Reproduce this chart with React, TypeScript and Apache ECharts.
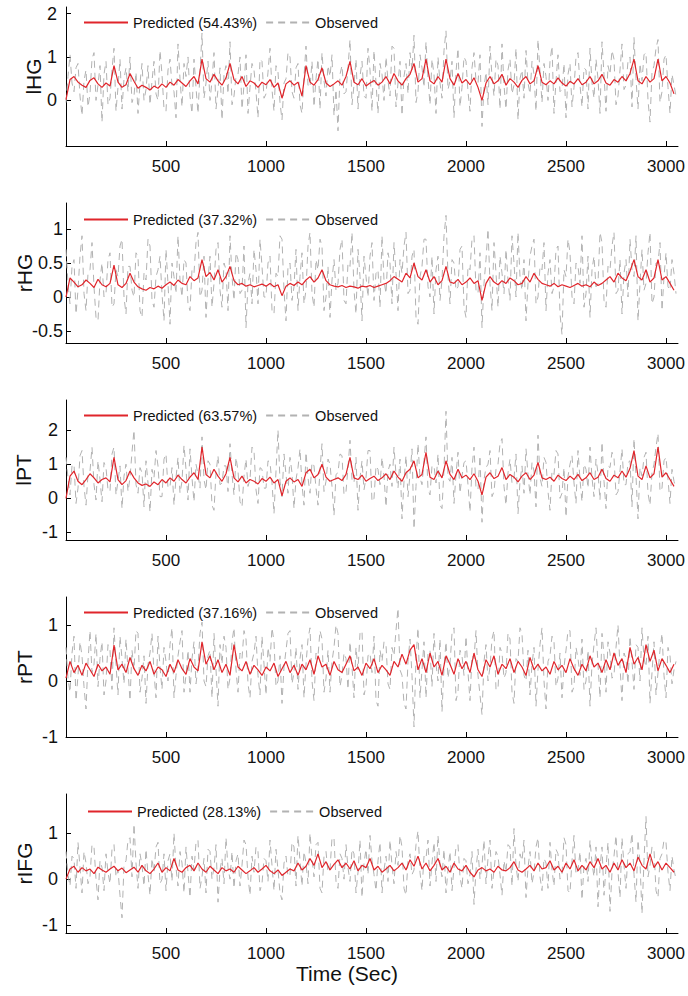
import React, { useEffect, useRef } from "react";
import * as echarts from "echarts";

const PRED_STEP = 20; // seconds between predicted samples
const OBS_STEP = 10; // seconds between observed samples
const X_TICKS = [500, 1000, 1500, 2000, 2500, 3000];

const REGIONS = ["lHG", "rHG", "lPT", "rPT", "rIFG"];
const FIT = ["54.43%", "37.32%", "63.57%", "37.16%", "28.13%"];

const predLHG = [
  0.02, 0.48, 0.55, 0.42, 0.35, 0.30, 0.46, 0.52, 0.38, 0.30,
  0.40, 0.33, 0.80, 0.42, 0.30, 0.36, 0.62, 0.44, 0.28, 0.35,
  0.30, 0.24, 0.33, 0.28, 0.38, 0.30, 0.42, 0.35, 0.48, 0.40,
  0.32, 0.45, 0.55, 0.38, 0.95, 0.50, 0.42, 0.60, 0.45, 0.35,
  0.52, 0.85, 0.48, 0.38, 0.55, 0.32, 0.45, 0.40, 0.30, 0.42,
  0.36, 0.48, 0.30, 0.40, 0.05, 0.38, 0.45, 0.35, 0.42, 0.10,
  0.80, 0.42, 0.35, 0.48, 0.75, 0.40, 0.32, 0.38, 0.45, 0.35,
  0.55, 0.90, 0.42, 0.36, 0.50, 0.33, 0.40, 0.46, 0.35, 0.42,
  0.55, 0.38, 0.62, 0.45, 0.35, 0.50, 0.60, 0.85, 0.42, 0.50,
  0.95, 0.45, 0.38, 0.55, 0.42, 0.95, 0.50, 0.35, 0.62, 0.40,
  0.48, 0.36, 0.52, 0.30, 0.00, 0.40, 0.55, 0.38, 0.45, 0.60,
  0.35, 0.50, 0.42, 0.30, 0.46, 0.55, 0.38, 0.45, 0.80, 0.42,
  0.36, 0.45, 0.38, 0.52, 0.40, 0.33, 0.44, 0.38, 0.50, 0.36,
  0.42, 0.55, 0.38, 0.45, 0.60, 0.40, 0.35, 0.48, 0.42, 0.55,
  0.45, 0.62, 0.95, 0.45, 0.38, 0.55, 0.42, 0.50, 0.95, 0.45,
  0.55, 0.40, 0.15,
];
const obsLHG = [
  -0.05, 0.55, 1.05, 0.40, 0.20, 0.75, 0.85, 0.10, -0.35, 0.45, 0.70, -0.15, 0.15, 0.95, 1.10, 0.00, 0.35, 0.80, -0.50, 0.60,
  0.90, -0.10, 0.05, 0.70, 1.20, -0.25, 0.30, 0.95, -0.20, 0.50, 0.75, 0.20, 1.00, -0.05, 0.10, 0.65, -0.30, 0.40, 0.85, 0.00,
  0.25, 0.80, -0.10, 0.45, 0.90, 0.15, 0.00, 1.15, 0.60, -0.20, -0.25, 0.70, 0.95, 0.35, 0.20, -0.40, 1.30, 0.50, -0.15, 0.85,
  0.55, 1.00, 0.10, -0.30, 0.95, 0.30, -0.30, 0.65, 1.55, 0.05, 0.40, 0.90, 0.00, 0.45, 1.10, -0.20, 0.25, 0.75, -0.45, 0.60,
  0.80, 0.15, 1.35, -0.10, 0.10, 0.55, 0.60, 1.00, -0.20, 0.35, 1.05, -0.30, 0.30, 0.85, 0.70, 0.20, -0.40, 0.95, 0.90, 0.05,
  0.15, 0.65, 1.20, 0.25, -0.25, 0.80, 0.65, -0.05, -0.45, 0.40, 0.50, 1.10, 1.00, 0.20, 0.05, 0.75, 0.85, -0.10, -0.30, 0.55,
  1.25, 0.35, 0.30, 0.90, -0.15, 0.50, 0.95, -0.20, 1.10, 0.45, 0.10, 0.80, 0.55, 1.05, -0.35, 0.25, -0.70, 0.60, 0.80, 0.15,
  0.20, 0.75, 1.40, -0.10, 0.35, 0.95, -0.20, 0.55, 0.90, 0.10, 0.05, 1.20, 0.70, -0.25, 1.15, 0.40, -0.30, 0.85, 0.60, 0.00,
  1.00, 0.45, 0.10, 1.25, 1.20, -0.15, 0.40, 0.90, -0.35, 0.55, 0.85, 0.15, 1.10, 0.70, 1.50, -0.05, 0.20, 1.05, 0.75, 0.30,
  1.35, 0.50, -0.10, 0.95, 0.60, -0.30, 1.00, 0.40, 0.05, 1.15, 1.60, 0.25, 0.45, 0.90, -0.40, 0.65, 1.20, -0.15, 0.30, 1.00,
  0.90, 0.20, -0.25, 0.75, 1.10, 0.45, 0.40, 1.05, -0.60, 0.30, 0.65, -0.10, 1.25, 0.55, 0.10, 0.95, 0.80, -0.20, 1.30, 0.35,
  -0.20, 0.70, 0.95, 0.15, 0.35, 1.20, -0.45, 0.50, 0.70, 0.05, 1.15, 0.40, 0.15, 0.90, 0.60, -0.25, 1.40, 0.65, -0.05, 0.85,
  0.55, 0.00, 0.90, 1.25, -0.30, 0.45, 1.05, 0.20, 0.25, 0.85, -0.40, 0.60, 0.85, -0.15, 0.30, 1.00, 1.10, 0.35, -0.15, 0.75,
  0.70, -0.20, 1.20, 0.40, 0.05, 0.95, 0.50, -0.30, 1.35, 0.60, -0.25, 0.80, 0.60, 1.15, 0.95, -0.10, 0.10, 0.70, 1.30, 0.25,
  0.35, 0.90, 1.00, -0.15, 1.45, 0.50, -0.20, 0.85, 0.45, 1.05, 1.10, 0.00, -0.50, 0.65, 0.80, 1.20, 1.40, -0.05, 0.20, 0.95,
  1.05, 0.30, -0.30, 0.60, 0.35, 0.10,
];

const predRHG = [
  0.00, 0.28, 0.22, 0.15, 0.18, 0.25, 0.20, 0.14, 0.26, 0.18,
  0.15, 0.20, 0.47, 0.18, 0.14, 0.20, 0.35, 0.22, 0.15, 0.12,
  0.10, 0.14, 0.12, 0.16, 0.13, 0.18, 0.22, 0.17, 0.25, 0.20,
  0.18, 0.30, 0.24, 0.28, 0.55, 0.30, 0.36, 0.25, 0.40, 0.22,
  0.30, 0.45, 0.24, 0.18, 0.20, 0.16, 0.18, 0.15, 0.17, 0.19,
  0.16, 0.20, 0.15, 0.18, 0.02, 0.16, 0.20, 0.17, 0.22, 0.18,
  0.25, 0.30, 0.22, 0.28, 0.40, 0.24, 0.18, 0.16, 0.15, 0.17,
  0.14, 0.16, 0.15, 0.13, 0.16, 0.15, 0.17, 0.14, 0.16, 0.18,
  0.20, 0.24, 0.30, 0.26, 0.22, 0.35, 0.28, 0.50, 0.30, 0.25,
  0.40, 0.22, 0.30, 0.18, 0.24, 0.45, 0.22, 0.20, 0.26, 0.18,
  0.22, 0.28, 0.20, 0.24, -0.05, 0.20, 0.30, 0.22, 0.18, 0.24,
  0.20, 0.28, 0.24, 0.18, 0.20, 0.30, 0.22, 0.35, 0.26, 0.20,
  0.18, 0.16, 0.20, 0.15, 0.18, 0.16, 0.14, 0.17, 0.20, 0.16,
  0.18, 0.15, 0.22, 0.17, 0.20, 0.25, 0.30, 0.22, 0.35, 0.28,
  0.24, 0.38, 0.55, 0.30, 0.25, 0.40, 0.22, 0.28, 0.55, 0.25,
  0.30, 0.20, 0.10,
];
const obsRHG = [
  0.70, 0.20, -0.10, 0.45, 0.55, -0.25, 0.10, 0.60, 0.90, 0.05, -0.20, 0.35, 0.40, 0.80, 0.15, -0.30, -0.35, 0.25, 0.50, 0.00,
  0.05, 0.55, 0.65, -0.15, -0.10, 0.40, 0.30, 0.75, 0.85, 0.00, -0.25, 0.45, 0.45, 0.10, 0.00, 0.65, 0.60, -0.20, -0.30, 0.35,
  0.25, 0.85, 0.75, -0.05, -0.15, 0.30, 0.40, 0.60, 0.05, -0.35, 0.70, 0.20, -0.40, 0.50, 0.30, 0.05, 0.90, 0.25, 0.00, 0.55,
  0.50, -0.10, -0.20, 0.40, 0.35, 0.80, 0.95, 0.00, 0.10, 0.60, -0.30, 0.25, 0.60, -0.15, 0.20, 0.70, 0.80, 0.10, -0.15, 0.50,
  0.40, -0.20, 0.90, 0.30, -0.05, 0.65, 0.55, 0.05, 0.10, 0.75, -0.45, 0.20, 0.35, -0.10, 0.70, 0.40, -0.10, 0.85, 0.45, 0.00,
  0.00, 0.50, 0.60, -0.20, -0.25, 0.35, 0.30, 0.90, 0.85, 0.10, -0.35, 0.45, 0.50, -0.05, 0.15, 0.70, -0.20, 0.30, 0.65, -0.10,
  0.10, 0.75, 0.95, 0.05, -0.15, 0.55, 0.40, 0.85, 0.75, -0.20, 0.00, 0.45, -0.30, 0.25, 0.55, 0.10, 0.20, 0.70, 0.85, -0.05,
  -0.10, 0.50, 0.45, 0.95, 0.10, -0.25, 0.70, 0.30, -0.35, 0.60, 0.30, 0.00, 0.60, 0.80, -0.05, 0.35, 0.40, -0.15, 0.90, 0.25,
  0.05, 0.65, 0.50, -0.10, 0.80, 0.35, -0.20, 0.55, 0.35, 0.75, 0.95, 0.05, 0.10, 0.60, 0.70, -0.30, -0.40, 0.30, 0.45, 0.85,
  0.85, 0.15, 0.00, 0.60, -0.25, 0.40, 0.60, -0.05, 0.25, 0.90, 1.20, 0.30, -0.10, 0.55, 0.50, 0.10, 0.15, 0.70, 0.75, -0.15,
  -0.30, 0.45, 0.40, 0.85, 0.90, 0.10, 0.05, 0.65, -0.45, 0.20, 0.55, 1.00, 0.20, -0.20, 0.80, 0.35, -0.15, 0.60, 0.35, 0.05,
  0.70, 0.25, -0.05, 0.90, 0.50, 0.00, 0.95, 0.30, 0.10, 0.55, -0.35, 0.20, 0.60, 0.75, 0.85, -0.10, 0.00, 0.45, 0.40, 0.80,
  -0.20, 0.35, 0.55, 0.05, 0.15, 0.70, 0.75, -0.25, -0.55, 0.40, 0.30, 0.85, 0.65, 0.00, -0.10, 0.50, 0.45, 0.20, 0.90, -0.15,
  0.05, 0.60, -0.30, 0.40, 0.60, 0.15, 0.20, 0.95, 0.80, -0.05, -0.15, 0.45, 0.40, 0.75, 0.95, 0.05, 0.10, 0.55, -0.25, 0.35,
  0.55, 0.00, 0.85, 0.40, 0.30, 0.90, -0.35, 0.20, 0.70, 0.10, 0.20, 0.65, 0.95, -0.10, 0.00, 0.50, 0.50, 0.80, -0.20, 0.30,
  0.65, 0.15, 0.10, 0.55, 0.35, 0.05,
];

const predLPT = [
  0.00, 0.65, 0.80, 0.50, 0.40, 0.55, 0.72, 0.60, 0.45, 0.55,
  0.60, 0.48, 1.20, 0.55, 0.40, 0.52, 0.80, 0.60, 0.45, 0.38,
  0.42, 0.35, 0.48, 0.40, 0.55, 0.45, 0.60, 0.50, 0.68, 0.55,
  0.45, 0.62, 0.75, 0.55, 1.50, 0.70, 0.60, 0.85, 0.65, 0.50,
  0.72, 1.20, 0.60, 0.48, 0.65, 0.45, 0.55, 0.50, 0.42, 0.58,
  0.50, 0.62, 0.45, 0.55, 0.07, 0.50, 0.60, 0.48, 0.55, 0.35,
  0.75, 0.85, 0.60, 0.70, 1.00, 0.62, 0.50, 0.55, 0.60, 0.52,
  0.70, 1.20, 0.60, 0.55, 0.68, 0.50, 0.58, 0.65, 0.52, 0.60,
  0.72, 0.55, 0.80, 0.62, 0.50, 0.75, 0.85, 1.10, 0.60, 0.70,
  1.35, 0.62, 0.55, 0.80, 0.60, 1.10, 0.70, 0.55, 0.85, 0.60,
  0.68, 0.55, 0.72, 0.50, 0.10, 0.62, 0.75, 0.58, 0.65, 0.90,
  0.55, 0.70, 0.62, 0.48, 0.65, 0.75, 0.55, 0.68, 1.05, 0.60,
  0.55, 0.62, 0.50, 0.68, 0.58, 0.52, 0.65, 0.55, 0.70, 0.52,
  0.60, 0.75, 0.55, 0.62, 0.85, 0.58, 0.50, 0.68, 0.60, 0.80,
  0.62, 0.88, 1.40, 0.65, 0.55, 0.95, 0.60, 0.72, 1.50, 0.62,
  0.75, 0.55, 0.35,
];
const obsLPT = [
  1.20, 0.60, 0.10, 0.95, 1.00, -0.15, 0.30, 1.25, 1.40, 0.35, -0.20, 0.70, 0.80, 1.50, 0.40, -0.05, 1.10, 0.55, -0.10, 1.05,
  0.90, 0.25, 0.20, 1.30, 1.50, 0.10, 0.50, 0.95, -0.30, 0.65, 1.00, 0.20, 0.60, 1.35, 2.00, 0.40, 0.15, 0.90, 0.75, -0.25,
  1.10, 0.45, -0.40, 0.85, 0.60, 1.40, 0.95, 0.05, 0.05, 1.15, 1.30, 0.30, 0.35, 0.90, -0.20, 0.60, 1.20, 0.15, 0.50, 1.55,
  0.85, -0.05, 1.45, 0.60, -0.10, 1.00, 0.70, 0.30, 1.80, 0.55, 0.25, 1.10, 1.00, -0.20, -0.35, 0.75, 1.25, 0.40, 0.45, 0.95,
  0.95, 0.20, 1.60, 0.70, 0.10, 1.20, 0.80, -0.10, -0.25, 0.65, 1.15, 0.35, 0.55, 1.50, 1.40, 0.25, -0.15, 0.90, 0.85, 0.30,
  0.30, 1.10, 1.05, 0.45, -0.45, 0.80, 2.00, 0.50, 0.05, 1.30, 0.70, 0.15, 1.20, 0.75, -0.30, 0.55, 0.90, 1.45, 0.40, -0.20,
  1.35, 0.60, 0.15, 1.05, 0.95, 0.30, -0.20, 0.85, 1.60, 0.20, 0.50, 1.15, 1.00, 0.35, -0.50, 0.70, 0.75, 1.30, 1.25, 0.10,
  0.20, 0.90, 1.70, 0.55, 0.45, 1.20, -0.35, 0.60, 1.10, 0.25, 0.60, 1.40, 1.40, -0.10, 0.00, 0.95, 0.85, 0.40, 1.20, 0.65,
  -0.25, 0.80, 1.00, 0.35, 1.50, 0.70, 0.30, 1.15, -0.60, 0.50, 1.25, 0.05, 0.70, 1.45, -0.90, 0.35, 1.60, 0.60, 0.40, 1.10,
  1.80, 0.25, 0.10, 0.95, 0.95, 0.45, 1.30, -0.20, -0.30, 0.85, 2.55, 0.60, 0.50, 1.20, -0.15, 0.70, 1.35, 0.15, 0.65, 1.05,
  1.10, 0.40, -0.40, 0.90, 1.50, 0.30, 0.25, 1.25, -0.70, 0.55, 0.90, 1.00, 1.40, 0.05, 0.20, 0.85, 1.00, 1.60, 1.75, 0.35,
  -0.20, 0.75, 1.15, 0.45, 0.60, 1.30, -0.45, 0.50, 0.95, 0.15, 1.45, 0.70, 0.10, 1.05, 0.80, -0.25, 1.85, 0.60, 0.35, 1.20,
  1.05, 0.20, -0.35, 0.80, 0.70, 1.40, 1.30, 0.00, 0.15, 0.90, -0.55, 0.65, 1.00, 1.25, 0.45, -0.15, 1.40, 0.55, -0.10, 1.00,
  0.85, 0.30, 1.50, 0.60, 0.05, 1.15, 0.75, -0.05, 1.65, 0.50, -0.30, 0.95, 0.90, 1.35, 1.20, 0.10, 0.20, 0.80, 1.45, 0.40,
  0.40, 1.05, 1.10, -0.25, 1.75, 0.65, -0.60, 0.90, 0.65, 1.20, 1.35, 0.15, -0.20, 0.75, 1.00, 1.50, 1.90, 0.20, 0.30, 1.10,
  1.20, 0.55, -0.15, 0.85, 0.50, 0.30,
];

const predRPT = [
  0.05, 0.35, 0.15, 0.28, 0.10, 0.32, 0.20, 0.08, 0.30, 0.18,
  0.25, 0.12, 0.64, 0.20, 0.30, 0.15, 0.42, 0.22, 0.10, 0.28,
  0.18, 0.35, 0.12, 0.25, 0.20, 0.08, 0.30, 0.15, 0.38, 0.22,
  0.12, 0.40, 0.25, 0.18, 0.70, 0.30, 0.45, 0.20, 0.38, 0.15,
  0.30, 0.10, 0.65, 0.25, 0.18, 0.35, 0.12, 0.28, 0.20, 0.10,
  0.25, 0.18, 0.32, 0.08, 0.22, 0.35, 0.15, 0.28, 0.10, 0.30,
  0.20, 0.38, 0.12, 0.45, 0.25, 0.30, 0.10, 0.35, 0.20, 0.15,
  0.30, 0.45, 0.18, 0.25, 0.10, 0.32, 0.22, 0.40, 0.15, 0.28,
  0.20, 0.10, 0.35, 0.25, 0.48, 0.30, 0.55, 0.65, 0.20, 0.40,
  0.15, 0.50, 0.25, 0.35, 0.10, 0.45, 0.30, 0.12, 0.40, 0.22,
  0.35, 0.15, 0.50, 0.20, 0.08, 0.38, 0.25, 0.45, 0.12, 0.30,
  0.22, 0.40, 0.15, 0.35, 0.25, 0.10, 0.42, 0.20, 0.30, 0.18,
  0.25, 0.12, 0.35, 0.20, 0.28, 0.15, 0.40, 0.22, 0.10, 0.30,
  0.18, 0.45, 0.25, 0.32, 0.15, 0.38, 0.20, 0.50, 0.28, 0.40,
  0.15, 0.60, 0.30, 0.42, 0.20, 0.65, 0.35, 0.55, 0.18, 0.40,
  0.28, 0.15, 0.30,
];
const obsRPT = [
  0.60, 0.05, -0.20, 0.50, 0.80, -0.35, 0.10, 0.70, 0.45, -0.10, -0.50, 0.35, 0.90, 0.15, 0.30, 0.85, -0.10, 0.40, 0.70, -0.25,
  0.00, 0.65, 0.55, -0.15, 0.95, 0.30, -0.25, 0.80, 0.40, -0.05, 0.75, 0.20, -0.35, 0.55, 0.20, 0.90, 0.85, -0.20, 0.05, 0.45,
  -0.40, 0.30, 0.50, 0.85, 0.15, -0.30, 0.80, 0.25, -0.15, 0.60, 0.35, 0.00, 0.65, 0.95, -0.30, 0.10, 0.45, 0.70, 0.90, -0.20,
  0.10, 0.55, -0.20, 0.40, 0.70, -0.05, 0.25, 0.85, 1.05, 0.00, -0.10, 0.45, 0.55, -0.30, 0.85, 0.20, -0.45, 0.65, 0.30, 0.80,
  0.60, -0.15, 0.05, 0.70, 0.95, 0.20, -0.20, 0.50, 0.40, 0.90, 0.75, -0.05, -0.30, 0.35, 0.50, 0.80, 0.10, -0.25, 0.80, 0.30,
  -0.25, 0.60, 0.35, 0.95, 0.70, -0.10, 0.00, 0.45, -0.40, 0.25, 0.55, 0.85, 0.90, -0.05, 0.15, 0.60, -0.15, 0.40, 0.65, -0.30,
  0.30, 0.75, 0.95, 0.00, -0.35, 0.50, 0.45, 0.90, 0.75, -0.20, 0.05, 0.55, -0.20, 0.35, 0.60, 1.00, 0.85, -0.10, 0.10, 0.50,
  0.40, -0.15, 0.70, 0.25, -0.30, 0.60, 0.20, 0.85, 0.90, -0.25, -0.10, 0.45, 0.50, 0.15, 0.80, -0.35, -0.45, 0.55, 0.35, 0.70,
  0.65, -0.05, -0.15, 0.60, 0.45, 0.90, 1.30, 0.20, 0.10, -0.40, -0.50, 0.35, 0.75, 0.10, -0.82, 0.40, 0.95, -0.30, 0.20, 0.70,
  -0.30, 0.50, 0.55, -0.10, 0.85, 0.30, 0.00, 0.75, -0.55, 0.25, 0.70, 0.05, 0.30, 0.85, 0.95, -0.35, -0.20, 0.55, 0.45, 0.10,
  0.80, 0.15, -0.35, 0.45, 0.40, 0.90, 0.10, -0.25, -0.60, 0.35, 0.65, 0.00, 0.25, 0.75, 0.90, -0.15, -0.15, 0.60, 0.50, 0.05,
  0.15, 0.85, 0.75, -0.20, -0.40, 0.40, 0.35, 0.95, 0.85, 0.10, 0.00, 0.55, -0.25, 0.30, 0.60, -0.45, 0.20, 0.65, 0.95, 0.00,
  -0.50, 0.35, 0.45, 0.80, 0.70, -0.10, 0.05, 0.50, -0.30, 0.25, 0.55, 0.90, 0.90, -0.20, -0.10, 0.60, 0.40, 0.10, 0.75, -0.15,
  0.00, 0.55, -0.45, 0.30, 0.65, 0.95, 0.30, -0.30, 0.85, 0.45, -0.20, 0.70, 0.50, 0.05, 0.10, 0.60, 1.00, 0.25, -0.35, 0.50,
  0.40, -0.05, 0.80, 0.35, -0.15, 0.65, 0.60, 0.00, 0.95, 0.40, 0.25, 0.80, -0.40, 0.15, 0.70, -0.25, 0.15, 0.55, 0.85, 0.10,
  -0.30, 0.60, 0.45, -0.05, 0.20, 0.35,
];

const predRIFG = [
  0.00, 0.22, 0.28, 0.15, 0.25, 0.18, 0.22, 0.12, 0.26, 0.20,
  0.15, 0.22, 0.28, 0.18, 0.24, 0.14, 0.20, 0.26, 0.15, 0.30,
  0.18, 0.12, 0.22, 0.35, 0.15, 0.25, 0.18, 0.45, 0.20, 0.15,
  0.25, 0.30, 0.18, 0.35, 0.22, 0.15, 0.28, 0.20, 0.12, 0.25,
  0.18, 0.22, 0.15, 0.28, 0.20, 0.12, 0.18, 0.25, 0.15, 0.22,
  0.30, 0.18, 0.12, 0.20, 0.08, 0.15, 0.22, 0.18, 0.35, 0.20,
  0.28, 0.45, 0.30, 0.55, 0.25, 0.38, 0.20, 0.32, 0.42, 0.25,
  0.35, 0.22, 0.40, 0.18, 0.30, 0.25, 0.45, 0.20, 0.28, 0.15,
  0.22, 0.30, 0.18, 0.25, 0.35, 0.20, 0.42, 0.28, 0.50, 0.22,
  0.35, 0.18, 0.30, 0.45, 0.20, 0.28, 0.15, 0.35, 0.22, 0.18,
  0.30, 0.15, 0.05, 0.20, 0.25, 0.18, 0.22, 0.15, 0.28, 0.20,
  0.18, 0.25, 0.38, 0.20, 0.15, 0.22, 0.30, 0.18, 0.35, 0.22,
  0.25, 0.40, 0.20, 0.28, 0.15, 0.35, 0.22, 0.42, 0.18, 0.30,
  0.20, 0.38, 0.25, 0.45, 0.22, 0.30, 0.15, 0.35, 0.20, 0.42,
  0.25, 0.35, 0.18, 0.48, 0.30, 0.22, 0.55, 0.25, 0.38, 0.20,
  0.35, 0.25, 0.15,
];
const obsRIFG = [
  0.60, 0.10, -0.15, 0.50, 0.45, -0.20, 0.80, 0.25, -0.30, 0.60, 0.35, -0.10, 0.05, 0.75, 0.70, 0.00, -0.45, 0.40, 0.25, -0.25,
  0.55, 0.15, -0.10, 0.65, 0.75, 0.05, 0.20, -0.35, -0.84, 0.30, 0.40, 0.85, 0.90, 0.05, 1.20, 0.35, -0.20, 0.55, 0.30, -0.15,
  0.65, 0.10, -0.35, 0.45, 0.15, 0.70, 0.80, -0.10, 0.00, 0.55, -0.25, 0.40, 0.55, -0.05, 1.00, 0.25, -0.15, 0.60, 0.35, -0.30,
  0.70, 0.15, -0.40, 0.50, 0.20, 0.80, 0.85, -0.20, 0.05, 0.45, -0.30, 0.65, 0.60, 0.00, 0.25, 0.75, -0.50, 0.20, 0.45, -0.10,
  0.90, 0.25, 0.00, 0.60, -0.20, 0.40, 0.55, -0.15, 0.30, 0.85, 0.75, 0.05, -0.35, 0.50, 0.15, 0.70, 0.60, -0.25, -0.10, 0.45,
  0.40, -0.05, 0.85, 0.30, -0.25, 0.65, 0.20, -0.30, -0.45, 0.35, 0.50, 0.05, 0.10, 0.80, 0.70, -0.15, 0.95, 0.40, -0.15, 0.60,
  0.35, -0.10, 1.00, 0.45, 0.05, 0.75, 0.80, -0.20, -0.30, 0.50, 0.60, 0.15, 0.20, 0.90, 0.90, -0.05, -0.20, 0.55, 0.45, 0.00,
  0.75, 0.25, -0.05, 0.65, 0.55, -0.30, 0.15, 0.85, -0.40, 0.35, 0.65, 0.10, 0.95, 0.40, 0.10, -0.25, 0.40, 0.80, -0.30, 0.20,
  0.50, -0.05, 0.85, 0.30, -0.10, 0.60, 0.30, 0.95, 0.70, -0.20, -0.35, 0.40, 0.55, 0.10, 0.20, 0.75, 1.05, 0.15, -0.25, 0.50,
  0.45, 0.85, -0.15, 0.35, 0.80, -0.05, 0.95, 0.30, 0.05, 0.65, -0.30, 0.20, 0.60, -0.25, 0.25, 0.70, 0.75, 0.05, -0.20, 0.45,
  0.40, -0.10, 0.10, 0.60, -0.55, 0.20, 0.65, 0.00, 0.30, 0.85, -0.10, 0.45, 0.85, -0.20, 0.20, 0.60, 0.50, 0.10, -0.35, 0.40,
  0.15, 0.75, 0.70, -0.15, 1.10, 0.30, -0.05, 0.55, 0.40, 0.85, -0.40, 0.25, 0.60, -0.10, 0.15, 0.70, 0.90, 0.05, -0.25, 0.45,
  0.35, -0.20, 0.80, 0.20, -0.15, 0.65, 0.55, 0.00, 0.10, 0.90, 0.75, -0.25, -0.30, 0.40, 0.95, 0.10, 0.20, 0.60, -0.45, 0.30,
  0.45, -0.05, 0.85, 0.35, 0.05, 0.70, -0.60, 0.25, 0.70, -0.35, 0.25, 0.80, -0.70, 0.15, 0.50, 0.95, 0.15, -0.40, 0.90, 0.30,
  -0.20, 0.55, 0.60, 1.00, 0.10, -0.50, 0.85, 0.35, -0.75, 0.40, 1.36, 0.05, 0.30, 0.70, 0.65, -0.25, -0.40, 0.45, 0.55, 0.85,
  0.80, 0.15, -0.25, 0.50, 0.20, 0.00,
];

const PREDICTED = [predLHG, predRHG, predLPT, predRPT, predRIFG];
const OBSERVED = [obsLHG, obsRHG, obsLPT, obsRPT, obsRIFG];

const Y_TICKS = [
  [0, 1, 2],
  [-0.5, 0, 0.5, 1],
  [-1, 0, 1, 2],
  [-1, 0, 1],
  [-1, 0, 1],
];
const Y_RANGE = [
  [-1.05, 2.15],
  [-0.676, 1.382],
  [-1.22, 2.88],
  [-1.0, 1.5],
  [-1.17, 1.85],
];

// layout (pixels)
const GRID_TOP = [7, 203, 400, 597, 794];
const GRID_H = [139, 140, 140, 140, 139];
const LEGEND_Y = [15, 212, 408, 605, 804];
const LEGEND_X = [83, 83, 83, 83, 87];
const LABEL_MARGIN = [9, 3, 8, 8, 8];
const NAME_GAP = [22, 31, 32, 31, 31];

const FONT = "'Liberation Sans', Arial, Helvetica, sans-serif";
const RED = "#e0252b";
const GRAY = "#b2b2b2";

export default function App() {
  const ref = useRef<HTMLDivElement>(null);
  useEffect(() => {
    if (!ref.current) return;
    const chart = echarts.init(ref.current, undefined, { renderer: "svg" });
    const grids: any[] = [];
    const xAxes: any[] = [];
    const yAxes: any[] = [];
    const series: any[] = [];
    const legends: any[] = [];
    REGIONS.forEach((region, k) => {
      const predName = `Predicted (${FIT[k]})`;
      grids.push({ left: 66, width: 612, top: GRID_TOP[k], height: GRID_H[k] });
      xAxes.push({
        type: "value",
        gridIndex: k,
        min: 0,
        max: 3060,
        axisLine: { onZero: false, lineStyle: { color: "#000", width: 1 } },
        axisTick: { inside: true, length: 5, lineStyle: { color: "#000" }, customValues: X_TICKS },
        axisLabel: {
          customValues: X_TICKS,
          formatter: (v: number) => String(v),
          fontSize: 17,
          fontFamily: FONT,
          color: "#111",
          margin: 12,
        },
        splitLine: { show: false },
        name: k === 4 ? "Time (Sec)" : "",
        nameLocation: "middle",
        nameGap: 30,
        nameMoveOverlap: false,
        nameTextStyle: { fontSize: 21, fontFamily: FONT, color: "#111", padding: [0, 50, 0, 0] },
      });
      yAxes.push({
        type: "value",
        gridIndex: k,
        min: Y_RANGE[k][0],
        max: Y_RANGE[k][1],
        axisLine: { show: true, onZero: false, lineStyle: { color: "#000", width: 1 } },
        axisTick: { show: true, inside: true, length: 5, lineStyle: { color: "#000" }, customValues: Y_TICKS[k] },
        axisLabel: {
          customValues: Y_TICKS[k],
          formatter: (v: number) => String(v),
          fontSize: 18,
          fontFamily: FONT,
          color: "#111",
          margin: LABEL_MARGIN[k],
        },
        splitLine: { show: false },
        name: region,
        nameLocation: "middle",
        nameGap: NAME_GAP[k],
        nameMoveOverlap: false,
        nameRotate: 90,
        nameTextStyle: { fontSize: 21, fontFamily: FONT, color: "#111" },
      });
      series.push({
        type: "line",
        name: "Observed",
        xAxisIndex: k,
        yAxisIndex: k,
        symbol: "none",
        data: OBSERVED[k].map((v, i) => [i * OBS_STEP, v]),
        lineStyle: { color: GRAY, width: 1, type: [7, 5] },
        itemStyle: { color: GRAY },
        z: 2,
      });
      series.push({
        type: "line",
        name: predName,
        xAxisIndex: k,
        yAxisIndex: k,
        symbol: "none",
        data: PREDICTED[k].map((v, i) => [i * PRED_STEP, v]),
        lineStyle: { color: RED, width: 1.2 },
        itemStyle: { color: RED },
        z: 3,
      });
      legends.push({
        left: LEGEND_X[k],
        top: LEGEND_Y[k],
        padding: 0,
        itemWidth: 44,
        itemHeight: 14,
        itemGap: 8,
        selectedMode: false,
        itemStyle: { opacity: 0 },
        data: [predName, "Observed"],
        textStyle: { fontSize: 14.5, fontFamily: FONT, color: "#111" },
      });
    });
    chart.setOption({
      animation: false,
      backgroundColor: "#fff",
      grid: grids,
      xAxis: xAxes,
      yAxis: yAxes,
      legend: legends,
      series,
    });
    return () => chart.dispose();
  }, []);
  return (
    <div
      ref={ref}
      style={{ position: "absolute", left: 0, top: 0, width: 688, height: 996 }}
    />
  );
}
